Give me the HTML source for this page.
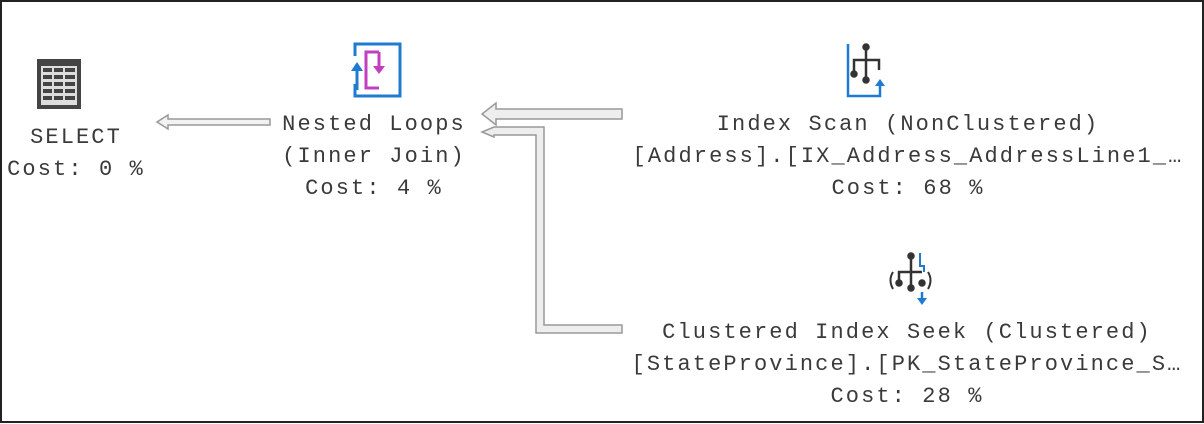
<!DOCTYPE html>
<html><head><style>
body{margin:0;width:1204px;height:424px;background:#fff;position:relative;overflow:hidden}
.frame{position:absolute;left:0;top:0;width:1200px;height:419px;border:2px solid #222}
.t{position:absolute;font-family:"Liberation Mono",monospace;font-size:22px;letter-spacing:2.1px;color:#3a3a3a;white-space:nowrap;transform:translateX(-50%);line-height:32px;text-align:center}
svg{position:absolute;left:0;top:0}
</style></head><body>
<div class="frame"></div>
<svg width="1204" height="424">
<path d="M270 119 L168 119 L168 115 L157 122 L168 129 L168 125 L270 125 Z" fill="#f2f2f2" stroke="#999" stroke-width="1.5"/>
<path d="M622 109 L496 109 L496 103 L482 114 L496 125 L496 119 L622 119 Z" fill="#eee" stroke="#999" stroke-width="1.5"/>
<path d="M494 127 L482 132 L494 137 L494 135 L536 135 L536 333 L622 333 L622 325 L544 325 L544 127 Z" fill="#eee" stroke="#999" stroke-width="1.5"/>
<rect x="37" y="59" width="44" height="50" fill="#444"/>
<rect x="41" y="66" width="36" height="39" fill="#ddd"/>
<g fill="#444">
<rect x="43" y="68" width="9" height="4"/><rect x="54" y="68" width="9" height="4"/><rect x="65" y="68" width="10" height="4"/>
<rect x="43" y="75" width="9" height="4"/><rect x="54" y="75" width="9" height="4"/><rect x="65" y="75" width="10" height="4"/>
<rect x="43" y="82" width="9" height="4"/><rect x="54" y="82" width="9" height="4"/><rect x="65" y="82" width="10" height="4"/>
<rect x="43" y="89" width="9" height="4"/><rect x="54" y="89" width="9" height="4"/><rect x="65" y="89" width="10" height="4"/>
<rect x="43" y="96" width="9" height="4"/><rect x="54" y="96" width="9" height="4"/><rect x="65" y="96" width="10" height="4"/>
</g>
<path d="M355 56 L355 44 L400 44 L400 96 L355 96 L355 84" fill="none" stroke="#1e7bd0" stroke-width="3"/>
<path d="M379 52 L366 52 L366 88 L379 88" fill="none" stroke="#c040c0" stroke-width="3"/>
<path d="M379 52 L379 68" stroke="#c040c0" stroke-width="3"/>
<path d="M373 66 L385 66 L379 74 Z" fill="#c040c0"/>
<path d="M357 90 L357 68" stroke="#1e7bd0" stroke-width="3"/>
<path d="M351 71 L357 62 L363 71 Z" fill="#1e7bd0"/>
<path d="M848 44 L848 96 L880 96 L880 84" fill="none" stroke="#1e7bd0" stroke-width="2.5"/>
<path d="M875 86 L880 79 L885 86 Z" fill="#1e7bd0"/>
<g stroke="#333" stroke-width="2.5" fill="#333">
<line x1="866" y1="47" x2="866" y2="80"/>
<path d="M854 73 L854 60 L879 60 L879 70" fill="none"/>
<circle cx="866" cy="47" r="2.5"/><circle cx="854" cy="74" r="2.5"/><circle cx="866" cy="80" r="2.5"/>
</g>
<g stroke="#333" stroke-width="2.5" fill="#333">
<line x1="911" y1="256" x2="911" y2="288"/>
<path d="M899 283 L899 272 L922 272" fill="none"/>
<circle cx="911" cy="256" r="2.5"/><circle cx="899" cy="283" r="2.5"/><circle cx="911" cy="288" r="2.5"/><circle cx="922" cy="283" r="2.5"/>
<path d="M893 272 Q888 280 893 289" fill="none" stroke-width="2"/>
<path d="M928 272 Q933 280 928 289" fill="none" stroke-width="2"/>
</g>
<path d="M920 253 L920 266 L924 266 L924 272" fill="none" stroke="#1e7bd0" stroke-width="2"/>
<line x1="922" y1="292" x2="922" y2="300" stroke="#1e7bd0" stroke-width="2.5"/>
<path d="M917 298 L927 298 L922 305 Z" fill="#1e7bd0"/>
</svg>
<div class="t" style="left:76px;top:122px">SELECT<br>Cost: 0 %</div>
<div class="t" style="left:374px;top:109px">Nested Loops<br>(Inner Join)<br>Cost: 4 %</div>
<div class="t" style="left:908px;top:109px">Index Scan (NonClustered)<br>[Address].[IX_Address_AddressLine1_…<br>Cost: 68 %</div>
<div class="t" style="left:907px;top:317px">Clustered Index Seek (Clustered)<br>[StateProvince].[PK_StateProvince_S…<br>Cost: 28 %</div>
</body></html>
